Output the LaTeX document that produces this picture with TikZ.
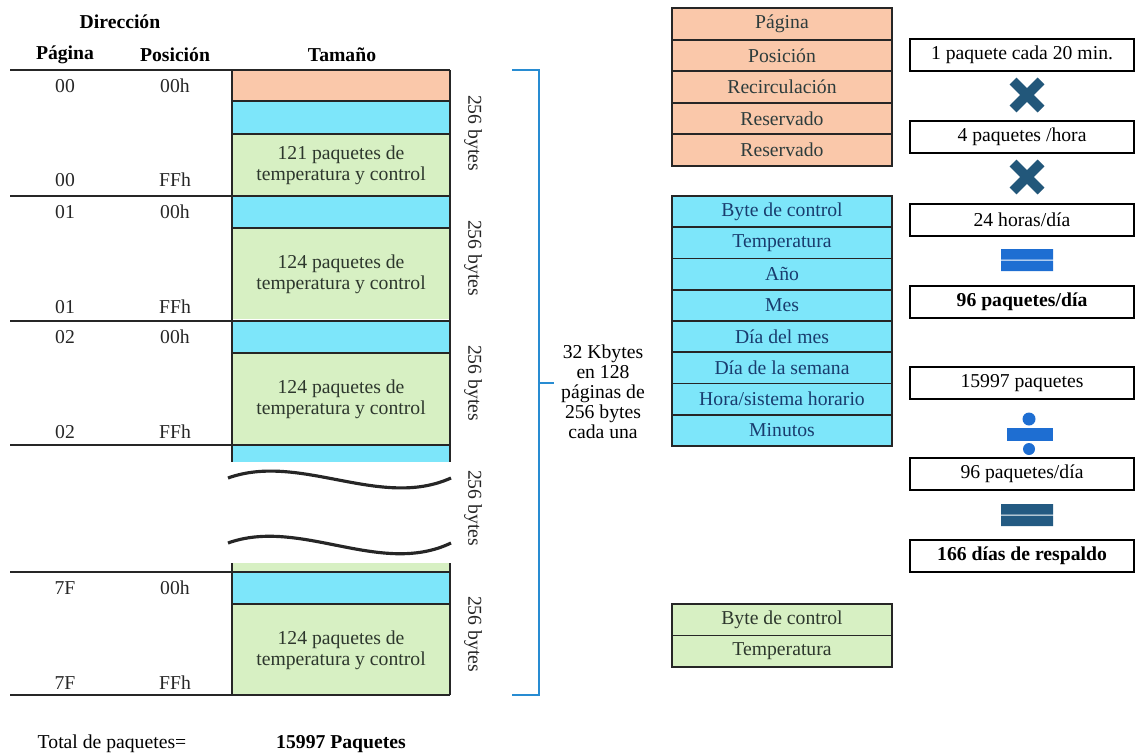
\documentclass[tikz,border=0pt]{standalone}
\usepackage{fontspec}
\setmainfont{Liberation Serif}
\usepackage{xcolor}
\usepackage{tikz}
\usetikzlibrary{calc}

\definecolor{naranja}{RGB}{250,200,170}
\definecolor{cian}{RGB}{125,230,250}
\definecolor{verde}{RGB}{215,240,195}
\definecolor{azulx}{RGB}{34,87,122}
\definecolor{azulclaro}{RGB}{30,110,210}
\definecolor{azulosc}{RGB}{35,90,130}
\definecolor{azulllave}{RGB}{40,140,210}
\definecolor{textonar}{RGB}{45,60,60}
\definecolor{textocian}{RGB}{25,60,110}
\definecolor{textoverde}{RGB}{45,55,45}

\tikzset{
  cabecera/.style={font=\fontsize{11.2}{13}\selectfont\bfseries},
  etiq/.style={text=black!85},
  paquete/.style={align=center, text=textoverde, font=\fontsize{11.2}{12}\selectfont},
  bytes/.style={rotate=-90, text=black!85},
  linea/.style={line width=1.1pt, draw=black!85},
  onda/.style={line width=1.8pt, draw=black!85},
  llave/.style={line width=1.2pt, draw=azulllave},
  campo/.style={draw=black!85, line width=1pt, minimum width=4.4cm, minimum height=0.63cm, inner sep=0pt},
  resultado/.style={draw=black, line width=1.3pt, fill=white, minimum width=4.48cm, minimum height=0.64cm, inner sep=0pt},
  por/.pic={\draw[azulx, line width=5.6pt] (-14,-14) -- (14,14) (-14,14) -- (14,-14);},
  igual/.pic={\fill[#1] (-26,-11) rectangle (26,-0.5) (-26,0.5) rectangle (26,11);},
  entre/.pic={\fill[azulclaro] (-20,-4) rectangle (26,9);
              \fill[azulclaro] (2,-13) circle (6.5) (2,17) circle (6);}
}

\begin{document}
\fontsize{11.2}{13}\selectfont
\begin{tikzpicture}[x=0.02cm, y=-0.02cm]
  \useasboundingbox (0,0) rectangle (1136,754);

  % Encabezados
  \node[cabecera] (dir) at (120,22) {Dirección};
  \node[cabecera] (pag) at (65,55) {Página};
  \node[cabecera] (pos) at (175,55) {Posición};
  \node[cabecera] (tam) at (342,55) {Tamaño};

  % Pagina 00
  \fill[naranja] (232,70) rectangle (450,101);
  \fill[cian] (232,101) rectangle (450,134);
  \fill[verde] (232,134) rectangle (450,196);
  \draw[linea] (232,101) -- (450,101) (232,134) -- (450,134);
  \node[paquete] (bloque00) at (341,165) {121 paquetes de\\temperatura y control};
  \node[etiq] (ini00) at (65,86) {00};
  \node[etiq] (dini00) at (175,86) {00h};
  \node[etiq] (fin00) at (65,180) {00};
  \node[etiq] (dfin00) at (175,180) {FFh};

  % Paginas 01, 02 y 7F
  \foreach \y/\p in {196/01, 321/02, 572/7F} {
    \fill[cian] (232,\y) rectangle (450,\y+32);
    \fill[verde] (232,\y+32) rectangle (450,\y+123);
    \draw[linea] (232,\y+32) -- (450,\y+32);
    \node[paquete] (bloque\p) at (341,\y+78) {124 paquetes de\\temperatura y control};
    \node[etiq] (ini\p) at (65,\y+16) {\p};
    \node[etiq] (dini\p) at (175,\y+16) {00h};
    \node[etiq] (fin\p) at (65,\y+111) {\p};
    \node[etiq] (dfin\p) at (175,\y+111) {FFh};
  }
  \fill[cian] (232,445) rectangle (450,462);
  \fill[verde] (232,563) rectangle (450,572);

  % Lineas de la tabla
  \foreach \y in {70, 196, 321, 445, 572, 695} {
    \draw[linea] (10,\y) -- (450,\y);
  }
  \draw[linea] (232,70) -- (232,462) (450,70) -- (450,462);
  \draw[linea] (232,563) -- (232,695) (450,563) -- (450,695);

  % Corte
  \draw[onda] (228,478) .. controls (300,452) and (380,510) .. (451,478);
  \draw[onda] (228,543) .. controls (300,517) and (380,577) .. (451,543);

  % Tamano de cada pagina
  \foreach \y [count=\i] in {133, 258, 383, 508, 634} {
    \node[bytes] (bytes\i) at (473,\y) {256 bytes};
  }

  % Llave
  \coordinate (lla) at (512,70);
  \coordinate (llb) at (512,695);
  \coordinate (llc) at (539,383);
  \node[align=center, font=\fontsize{11.2}{11.4}\selectfont] (kb) at (603,392)
    {32 Kbytes\\en 128\\páginas de\\256 bytes\\cada una};
  \draw[llave] (lla) -- (539,70) -- (539,695) -- (llb);
  \draw[llave] (llc) -- ($(kb.west)+(0,-9)$);

  % Total
  \node (total) at (112,744) {Total de paquetes=};
  \node[cabecera] (totalp) at (341,744) {15997 Paquetes};

  % Cabecera del paquete
  \foreach \t [count=\i] in {Página, Posición, Recirculación, Reservado, Reservado} {
    \node[campo, fill=naranja, text=textonar] (cab\i) at (782,8+31.6*\i-15.8) {\t};
  }

  % Datos de control
  \foreach \t [count=\i] in {Byte de control, Temperatura, Año, Mes, Día del mes,
      Día de la semana, Hora/sistema horario, Minutos} {
    \node[campo, fill=cian, text=textocian] (dato\i) at (782,196+31.25*\i-15.625) {\t};
  }

  % Paquete de temperatura
  \foreach \t [count=\i] in {Byte de control, Temperatura} {
    \node[campo, fill=verde, text=textoverde] (temp\i) at (782,604+31.5*\i-15.75) {\t};
  }

  % Calculo del respaldo
  \node[resultado] (r1) at (1022,55) {1 paquete cada 20 min.};
  \pic at (1027,95) {por};
  \node[resultado] (r2) at (1022,137) {4 paquetes /hora};
  \pic at (1027,177) {por};
  \node[resultado] (r3) at (1022,220) {24 horas/día};
  \pic at (1027,260) {igual=azulclaro};
  \node[resultado, cabecera] (r4) at (1022,302) {96 paquetes/día};
  \node[resultado] (r5) at (1022,383) {15997 paquetes};
  \pic at (1027,432) {entre};
  \node[resultado] (r6) at (1022,474) {96 paquetes/día};
  \pic at (1027,515) {igual=azulosc};
  \node[resultado, cabecera] (r7) at (1022,556) {166 días de respaldo};
\end{tikzpicture}
\end{document}
